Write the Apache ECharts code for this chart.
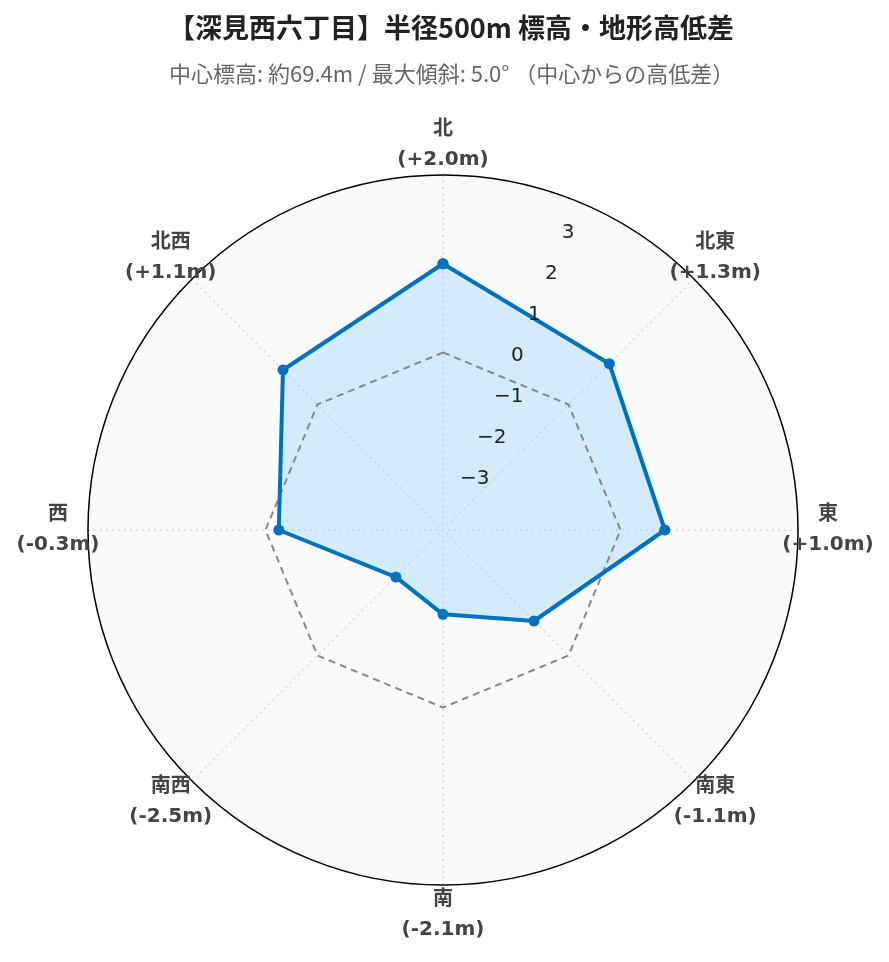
<!DOCTYPE html>
<html><head><meta charset="utf-8">
<script src="https://cdn.jsdelivr.net/npm/echarts@6/dist/echarts.min.js"></script>
<style>html,body{margin:0;padding:0;background:#fff}#c{width:889px;height:962px}</style>
</head><body><div id="c"></div>
<script>
const directions = ['北', '北東', '東', '南東', '南', '南西', '西', '北西'];
const elevationDiff = [2.0, 1.3, 1.0, -1.1, -2.1, -2.5, -0.3, 1.1];
const baseline = [0, 0, 0, 0, 0, 0, 0, 0];
const radialTickLabels = [-3, -2, -1, 0, 1, 2, 3];
const titleText = '【深見西六丁目】半径500m 標高・地形高低差';
const subtitleText = '中心標高: 約69.4m / 最大傾斜: 5.0° （中心からの高低差）';
const radialMin = -4, radialMax = 4;

const LATIN = '"DejaVu Sans", "Noto Sans CJK JP", sans-serif';
const CJK = '"Noto Sans CJK JP", sans-serif';
const step = 360 / directions.length;
function closed(arr) {
  const pts = arr.map((v, i) => [v, i * step]);
  pts.push([arr[0], 360]);
  return pts;
}
const CENTER = [443, 530];
const BLUE = '#0072BD';

const chart = echarts.init(document.getElementById('c'));
chart.setOption({
  backgroundColor: '#fff',
  animation: false,
  title: [
    { text: titleText, left: 168, top: 14, padding: 0,
      textStyle: { fontFamily: CJK, fontSize: 27, fontWeight: 'bold', color: '#222' } },
    { text: subtitleText, left: 169, top: 63, padding: 0,
      textStyle: { fontFamily: CJK, fontSize: 22, fontWeight: 'normal', color: '#666' } }
  ],
  polar: [
    { center: CENTER, radius: 355 },
    { center: CENTER, radius: 355 },
    { center: CENTER, radius: 385 }
  ],
  angleAxis: [
    { polarIndex: 0, type: 'value', min: 0, max: 360, interval: step, startAngle: 90, clockwise: true,
      axisLine: { show: true, lineStyle: { color: '#000', width: 1.5 } },
      axisTick: { show: false }, axisLabel: { show: false },
      splitLine: { show: true, lineStyle: { color: '#d8d8d8', type: [2, 4], width: 1.5 } } },
    { polarIndex: 1, type: 'value', min: 0, max: 360, startAngle: 90 - step / 2, clockwise: true, show: false },
    { polarIndex: 2, type: 'value', min: 0, max: 360, startAngle: 90, clockwise: true, show: false }
  ],
  radiusAxis: [
    { polarIndex: 0, type: 'value', min: radialMin, max: radialMax, interval: 1,
      axisLine: { show: false }, axisTick: { show: false }, axisLabel: { show: false },
      splitLine: { show: true, lineStyle: { color: '#d8d8d8', type: [2, 4], width: 1.5 } },
      splitArea: { show: true, areaStyle: { color: ['#fafafa'] } } },
    { polarIndex: 1, type: 'value', min: radialMin, max: radialMax, interval: 1, z: 10,
      axisLine: { show: false }, axisTick: { show: false }, splitLine: { show: false },
      axisLabel: { show: true, align: 'left', verticalAlign: 'bottom', margin: 0,
        fontSize: 20, color: '#222', fontFamily: LATIN,
        formatter: v => radialTickLabels.indexOf(v) < 0 ? '' : (v < 0 ? '\u2212' + (-v) : String(v)) } },
    { polarIndex: 2, type: 'value', min: 0, max: 1, show: false }
  ],
  series: [
    { type: 'line', coordinateSystem: 'polar', polarIndex: 0, data: closed(elevationDiff),
      symbol: 'none', z: 2, silent: true,
      lineStyle: { width: 0, opacity: 0 },
      areaStyle: { color: 'rgba(135,206,250,0.33)', opacity: 1, origin: 'start' } },
    { type: 'line', coordinateSystem: 'polar', polarIndex: 0, data: closed(baseline),
      symbol: 'none', z: 3, silent: true, lineStyle: { color: '#888', width: 2, type: [7, 5] } },
    { type: 'line', coordinateSystem: 'polar', polarIndex: 0, data: closed(elevationDiff),
      symbol: 'circle', symbolSize: 11, z: 4,
      lineStyle: { color: BLUE, width: 4 }, itemStyle: { color: BLUE } },
    { type: 'scatter', coordinateSystem: 'polar', polarIndex: 2,
      data: directions.map((d, i) => ({ value: [1, i * step], name: d })),
      symbolSize: 1, itemStyle: { color: 'rgba(0,0,0,0)' }, silent: true,
      label: { show: true, position: 'inside', align: 'center', verticalAlign: 'middle', opacity: 1,
        fontFamily: LATIN, fontSize: 20, fontWeight: 'bold', color: '#444', lineHeight: 30,
        textBorderWidth: 0,
        formatter: p => {
          const v = elevationDiff[p.dataIndex];
          return directions[p.dataIndex] + '\n(' + (v >= 0 ? '+' : '') + v.toFixed(1) + 'm)';
        } } }
  ]
});
</script>
</body></html>
